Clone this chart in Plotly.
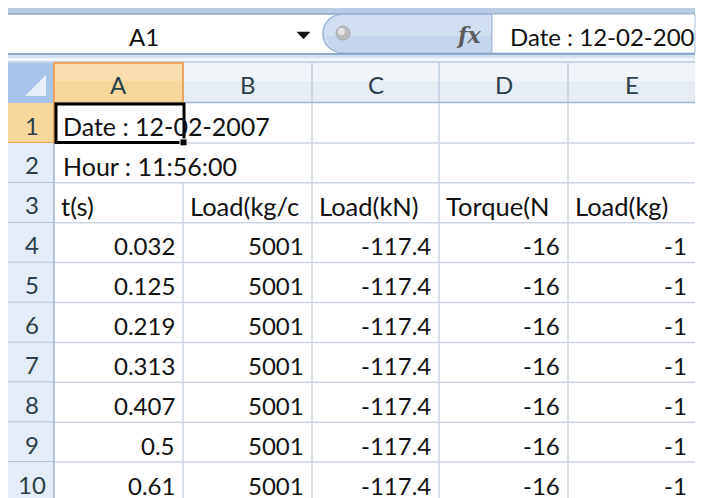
import plotly.graph_objects as go

# ---------------- data ----------------
col_letters = ["A", "B", "C", "D", "E"]
row_numbers = [1, 2, 3, 4, 5, 6, 7, 8, 9, 10]
name_box = "A1"
formula_text = "Date : 12-02-200"
info_lines = ["Date : 12-02-2007", "Hour : 11:56:00"]
headers = ["t(s)", "Load(kg/c", "Load(kN)", "Torque(N", "Load(kg)"]
t_s = [0.032, 0.125, 0.219, 0.313, 0.407, 0.5, 0.61]
load_kgc = [5001, 5001, 5001, 5001, 5001, 5001, 5001]
load_kn = [-117.4, -117.4, -117.4, -117.4, -117.4, -117.4, -117.4]
torque = [-16, -16, -16, -16, -16, -16, -16]
load_kg = [-1, -1, -1, -1, -1, -1, -1]
columns = [t_s, load_kgc, load_kn, torque, load_kg]

# ---------------- layout geometry (pixels) ----------------
W, H = 707, 498
OFF = 8                         # page body margin
X0, X1 = 8, 695                 # visible sheet extent
col_edges = [54, 183, 312, 439, 568, 695]
HDR_TOP, HDR_BOT = 63, 103
ROW_H = 39.9
FONT = "Lato, 'Open Sans', sans-serif"
GRID = "#CDD5E3"
HDR_LINE = "#9EB6CE"
ORANGE_FILL = "#F9D79A"
ORANGE_LINE = "#F29536"
HDR_TXT = "#2B3F4A"

shapes = []
annots = []


def rect(x0, y0, x1, y1, fill, line=None, lw=0, layer="above"):
    shapes.append(dict(type="rect", xref="x", yref="y", x0=x0, y0=y0, x1=x1, y1=y1,
                       fillcolor=fill, line=dict(color=line or fill, width=lw), layer=layer))


def hline(x0, x1, y, color, lw=1):
    shapes.append(dict(type="line", xref="x", yref="y", x0=x0, x1=x1, y0=y, y1=y,
                       line=dict(color=color, width=lw)))


def vline(x, y0, y1, color, lw=1):
    shapes.append(dict(type="line", xref="x", yref="y", x0=x, x1=x, y0=y0, y1=y1,
                       line=dict(color=color, width=lw)))


def text(x, y, s, size=24, color="#111111", anchor="left", family=FONT):
    annots.append(dict(x=x, y=y, xref="x", yref="y", text=s, showarrow=False,
                       xanchor=anchor, yanchor="middle",
                       font=dict(family=family, size=size, color=color)))


def row_top(r):
    return HDR_BOT + (r - 1) * ROW_H


# ---------------- formula bar ----------------
rect(X0, 8, X1, 14, "#B9CCE4")
hline(X0, X1, 14, "#8EA9CB", 1.5)
text(144, 36, name_box, anchor="center")
shapes.append(dict(type="path", path="M 297,32 L 310,32 L 303.5,39 Z",
                   fillcolor="#111111", line=dict(color="#111111", width=0.5)))
shapes.append(dict(type="path",
                   path="M 344,14 L 492,14 L 492,53 L 344,53 C 332,53 323,45 323,33.5 C 323,22 332,14 344,14 Z",
                   fillcolor="#D2DFF1", line=dict(color="#9AB3D3", width=1.5)))
shapes.append(dict(type="path",
                   path="M 326,36 L 491,36 L 491,52.2 L 344,52.2 C 334,52.2 327,45 326,36 Z",
                   fillcolor="#C6D6EC", line=dict(width=0)))
shapes.append(dict(type="circle", xref="x", yref="y", x0=336, y0=26, x1=350, y1=40,
                   fillcolor="#BDBDBD", line=dict(color="#A9A9A9", width=1)))
shapes.append(dict(type="circle", xref="x", yref="y", x0=338, y0=28, x1=345, y1=35,
                   fillcolor="#E4E4E4", line=dict(width=0)))
text(468, 35, "<b><i>fx</i></b>", size=22, color="#5C5C5C", anchor="center",
     family="'DejaVu Serif', serif")
rect(492, 14, X1, 53, "#FFFFFF", "#A7BCD8", 1)
text(508, 36, formula_text)

# separator band
rect(X0, 53, X1, 55, "#8DA9CB")
rect(X0, 55, X1, 58, "#D3E0F0")
rect(X0, 58, X1, 61, "#F2F6FB")
rect(X0, 61, X1, HDR_TOP, "#C5D5EA")

# ---------------- column headers ----------------
rect(X0, HDR_TOP, col_edges[0], HDR_BOT, "#A9C4E9")
shapes.append(dict(type="path", path="M 25,96 L 46,96 L 46,75 Z",
                   fillcolor="#E8EFF8", line=dict(width=0)))
for i, letter in enumerate(col_letters):
    a, b = col_edges[i], col_edges[i + 1]
    if letter == "A":
        rect(a, HDR_TOP, b, HDR_BOT, ORANGE_FILL)
        rect(a, HDR_TOP, b, HDR_TOP + 18, "#FADFAE")
    else:
        rect(a, HDR_TOP, b, HDR_BOT, "#E6ECF4")
        rect(a, HDR_TOP, b, HDR_TOP + 18, "#F1F4F9")
    text((a + b) / 2, 84, letter, color=HDR_TXT, anchor="center")
for e in col_edges[1:-1]:
    vline(e, HDR_TOP, HDR_BOT, "#C2CEDE", 1.5)
hline(col_edges[0], X1, HDR_BOT - 0.5, HDR_LINE, 1.5)
shapes.append(dict(type="rect", x0=col_edges[0], x1=col_edges[1], y0=HDR_TOP, y1=HDR_BOT,
                   line=dict(color=ORANGE_LINE, width=1.5), fillcolor="rgba(0,0,0,0)"))

# ---------------- row headers ----------------
for r in row_numbers:
    y0 = row_top(r)
    y1 = y0 + ROW_H
    fill = ORANGE_FILL if r == 1 else "#E4ECF7"
    rect(X0, y0, col_edges[0], y1, fill)
    hline(X0, col_edges[0], y1, ORANGE_LINE if r == 1 else HDR_LINE, 1.5)
    text((X0 + col_edges[0]) / 2 + 1, y0 + 22, str(r), color=HDR_TXT, anchor="center")
vline(col_edges[0], HDR_BOT, H, HDR_LINE, 1.5)
shapes.append(dict(type="line", x0=col_edges[0], x1=col_edges[0], y0=row_top(1), y1=row_top(2),
                   line=dict(color=ORANGE_LINE, width=1.5)))

# ---------------- cell grid ----------------
for r in row_numbers:
    y1 = row_top(r) + ROW_H
    hline(col_edges[0] + 1, X1, y1, GRID, 1.5)
for k, e in enumerate(col_edges[1:-1]):
    ystart = row_top(3) if k == 0 else HDR_BOT
    vline(e, ystart, H, GRID, 1.5)

# ---------------- cell contents ----------------
for i, s in enumerate(info_lines):
    text(col_edges[0] + 7, row_top(i + 1) + 23, s, size=25)
for j, s in enumerate(headers):
    text(col_edges[j] + 5, row_top(3) + 23, s, size=25.5)
for j, col in enumerate(columns):
    for i, v in enumerate(col):
        text(col_edges[j + 1] - 6, row_top(4 + i) + 23, str(v), anchor="right")

# ---------------- selection box ----------------
shapes.append(dict(type="rect", x0=col_edges[0] + 2, x1=col_edges[1] + 1,
                   y0=row_top(1) + 1, y1=row_top(2) - 0.5,
                   line=dict(color="#000000", width=3), fillcolor="rgba(0,0,0,0)"))
rect(col_edges[1] - 3, row_top(2) - 4, col_edges[1] + 4, row_top(2) + 3, "#000000", "#FFFFFF", 1)

fig = go.Figure()
fig.update_layout(
    width=W - OFF, height=H - OFF, margin=dict(l=0, r=0, t=0, b=0),
    paper_bgcolor="white", plot_bgcolor="white",
    xaxis=dict(range=[OFF, W], visible=False, fixedrange=True),
    yaxis=dict(range=[H, OFF], visible=False, fixedrange=True),
    shapes=shapes, annotations=annots, showlegend=False,
)
fig.write_html("out.html", config={"displayModeBar": False})
